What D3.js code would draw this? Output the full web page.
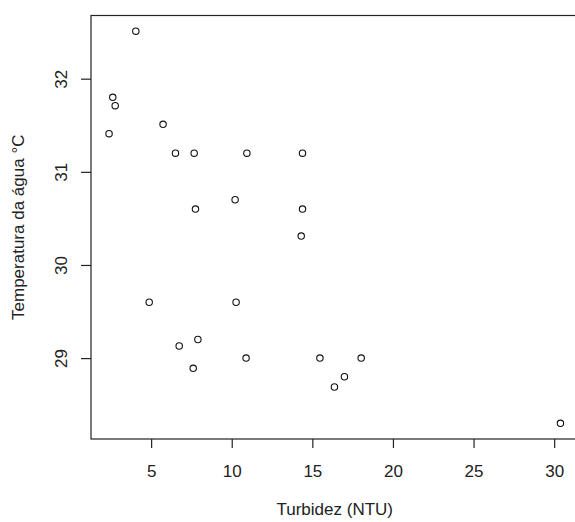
<!DOCTYPE html>
<html>
<head>
  <meta charset="utf-8">
  <script src="https://d3js.org/d3.v7.min.js"></script>
  <style>
    * { margin: 0; padding: 0; }
    body { background: #fff; }
    svg text { font-family: "Liberation Sans", Arial, sans-serif; fill: #222; }
  </style>
</head>
<body>
<div id="graph"></div>
<script>
  // turbidez (NTU) x temperatura da agua (C)
  var turbidez = [4.05, 2.62, 2.77, 2.39, 5.74, 6.51, 7.67, 10.94, 14.39, 10.21,
                  7.75, 14.39, 14.31, 4.88, 10.27, 6.74, 7.9, 7.61, 10.89, 15.47,
                  18.03, 16.99, 16.37, 30.39];
  var temperatura = [32.51, 31.8, 31.71, 31.41, 31.51, 31.2, 31.2, 31.2, 31.2, 30.7,
                     30.6, 30.6, 30.31, 29.6, 29.6, 29.13, 29.2, 28.89, 29.0, 29.0,
                     29.0, 28.8, 28.69, 28.3];
  var xTicks = [5, 10, 15, 20, 25, 30];
  var yTicks = [29, 30, 31, 32];

  var w = 575, h = 522;
  // plot box (the right edge falls just outside the window, like the original)
  var boxL = 91, boxR = 578.5, boxT = 15.5, boxB = 439;

  // R style: 4% padding on each side of the data range
  function pad(arr) {
    var e = d3.extent(arr), d = (e[1] - e[0]) * 0.04;
    return [e[0] - d, e[1] + d];
  }

  var x = d3.scaleLinear().domain(pad(turbidez)).range([boxL, boxR]);
  var y = d3.scaleLinear().domain(pad(temperatura)).range([boxB, boxT]);

  var svg = d3.select("#graph").append("svg")
    .attr("width", w)
    .attr("height", h);

  svg.append("rect")
    .attr("x", boxL).attr("y", boxT)
    .attr("width", boxR - boxL).attr("height", boxB - boxT)
    .attr("fill", "none").attr("stroke", "#222").attr("stroke-width", 1.2);

  var xAxis = svg.append("g")
    .attr("transform", "translate(0," + boxB + ")")
    .call(d3.axisBottom(x).tickValues(xTicks).tickSize(9).tickFormat(d3.format("d")));
  xAxis.select(".domain").remove();
  xAxis.selectAll("line").attr("stroke", "#222").attr("stroke-width", 1.2);
  xAxis.selectAll("text")
    .attr("y", 38).attr("dy", null)
    .attr("font-size", 17).attr("fill", "#222");

  var yAxis = svg.append("g")
    .attr("transform", "translate(" + boxL + ",0)")
    .call(d3.axisLeft(y).tickValues(yTicks).tickSize(10).tickFormat(d3.format("d")));
  yAxis.select(".domain").remove();
  yAxis.selectAll("line").attr("stroke", "#222").attr("stroke-width", 1.2);
  yAxis.selectAll("text")
    .attr("transform", "rotate(-90)")
    .attr("x", 0).attr("y", -24).attr("dy", null)
    .attr("text-anchor", "middle")
    .attr("font-size", 17).attr("fill", "#222");

  svg.selectAll("circle.pt")
    .data(turbidez)
    .enter()
    .append("circle")
    .attr("class", "pt")
    .attr("cx", function(d) { return x(d); })
    .attr("cy", function(d, i) { return y(temperatura[i]); })
    .attr("r", 3.2)
    .attr("fill", "none")
    .attr("stroke", "#111")
    .attr("stroke-width", 1.1);

  svg.append("text")
    .attr("x", (boxL + boxR) / 2)
    .attr("y", 515)
    .attr("text-anchor", "middle")
    .attr("font-size", 17)
    .text("Turbidez (NTU)");

  svg.append("text")
    .attr("transform", "translate(23.5," + (boxT + boxB) / 2 + ") rotate(-90)")
    .attr("text-anchor", "middle")
    .attr("font-size", 17)
    .text("Temperatura da água °C");
</script>
</body>
</html>
